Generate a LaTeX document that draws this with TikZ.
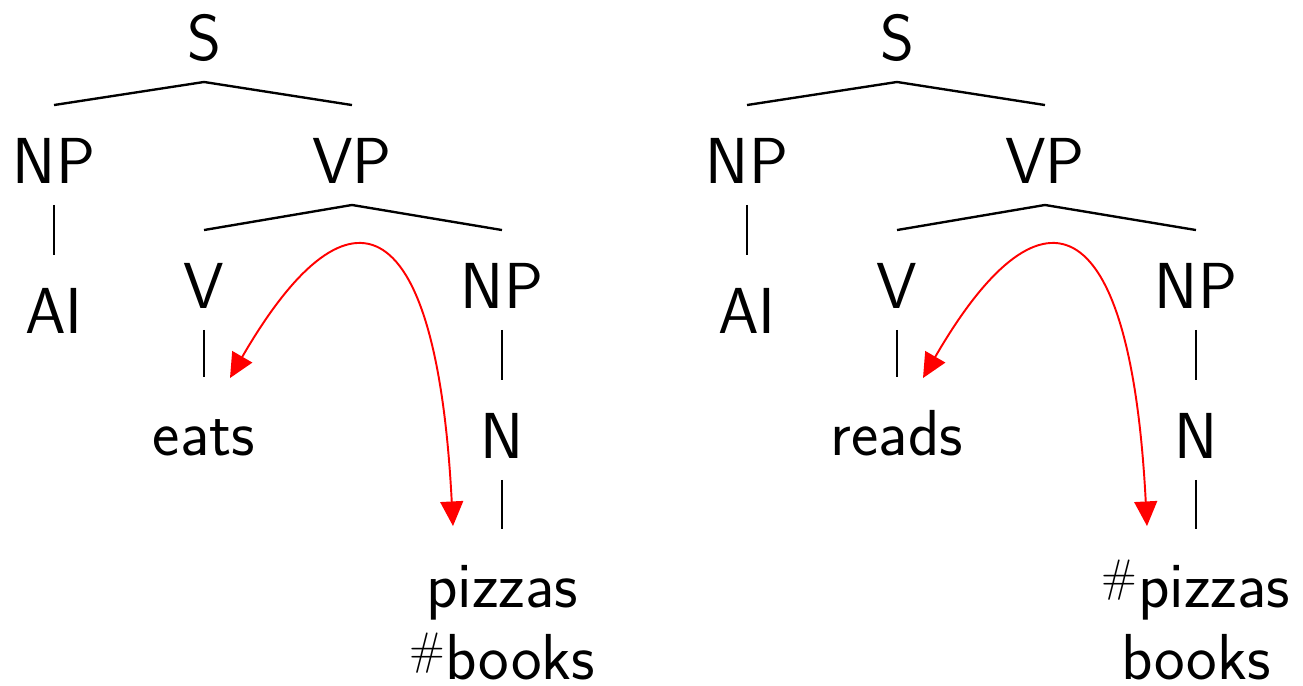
\documentclass[tikz,border=0pt]{standalone}
\usepackage{fontspec}
\usepackage{xcolor}
\usepackage{tikz}
\usetikzlibrary{
    arrows.meta,
    positioning,
    calc
}

\begin{document}
\begin{tikzpicture}[
    line width=1.1pt,
    cat/.style={
        anchor=base,
        inner sep=0pt,
        font=\sffamily\fontsize{37}{41.5}\selectfont,
        text height=1.54cm,
        text depth=0.42cm
    },
    branch/.style={
        black,
        line width=1.35pt
    },
    movearrow/.style={
        {Triangle[length=14pt,width=13pt]}-{Triangle[length=14pt,width=13pt]},
        red,
        line width=1.1pt
    }
]

\useasboundingbox (0,0) rectangle (26.06,-13.7);

% ============================================================
% TREE A — AI EATS PIZZAS
% ============================================================

\node[cat] (sA)   at (4.08,-1.20)  {S};
\node[cat] (npA)  at (1.08,-3.66)  {NP};
\node[cat] (vpA)  at (7.04,-3.66)  {VP};
\node[cat] (aiA)  at (1.08,-6.66)  {AI};
\node[cat] (vA)   at (4.08,-6.16)  {V};
\node[cat] (objA) at (10.04,-6.16) {NP};
\node[cat] (verbA) at (4.08,-9.10) {eats};
\node[cat] (nA)   at (10.04,-9.16) {N};
\node[cat] (nounA) at (10.04,-12.14)
    {\begin{tabular}[t]{@{}c@{}}pizzas\\\textsuperscript{\#}books\end{tabular}};

% Branches
\draw[branch] (sA.south) -- (npA.north);
\draw[branch] (sA.south) -- (vpA.north);
\draw[branch] (npA.south) -- (aiA.north);
\draw[branch] (vpA.south) -- (vA.north);
\draw[branch] (vpA.south) -- (objA.north);
\draw[branch] (vA.south) -- (verbA.north);
\draw[branch] (objA.south) -- (nA.north);
\draw[branch] (nA.south) -- (nounA.north);

% Selection arrow
\coordinate (tipVA) at ($(verbA.north)+(0.52,-0.02)$);
\coordinate (tipNA) at ($(nounA.north)+(-0.98,0.06)$);

\draw[movearrow]
    (tipVA) .. controls +(2.3,3.98) and +(-0.34,6.6) .. (tipNA);

% ============================================================
% TREE B — AI READS BOOKS
% ============================================================

\node[cat] (sB)   at (17.94,-1.20)  {S};
\node[cat] (npB)  at (14.94,-3.66)  {NP};
\node[cat] (vpB)  at (20.90,-3.66)  {VP};
\node[cat] (aiB)  at (14.94,-6.66)  {AI};
\node[cat] (vB)   at (17.94,-6.16)  {V};
\node[cat] (objB) at (23.92,-6.16)  {NP};
\node[cat] (verbB) at (17.94,-9.10) {reads};
\node[cat] (nB)   at (23.92,-9.16)  {N};
\node[cat] (nounB) at (23.92,-12.14)
    {\begin{tabular}[t]{@{}c@{}}\textsuperscript{\#}pizzas\\books\end{tabular}};

% Branches
\draw[branch] (sB.south) -- (npB.north);
\draw[branch] (sB.south) -- (vpB.north);
\draw[branch] (npB.south) -- (aiB.north);
\draw[branch] (vpB.south) -- (vB.north);
\draw[branch] (vpB.south) -- (objB.north);
\draw[branch] (vB.south) -- (verbB.north);
\draw[branch] (objB.south) -- (nB.north);
\draw[branch] (nB.south) -- (nounB.north);

% Selection arrow
\coordinate (tipVB) at ($(verbB.north)+(0.52,-0.02)$);
\coordinate (tipNB) at ($(nounB.north)+(-0.98,0.06)$);

\draw[movearrow]
    (tipVB) .. controls +(2.3,3.98) and +(-0.34,6.6) .. (tipNB);

\end{tikzpicture}
\end{document}
